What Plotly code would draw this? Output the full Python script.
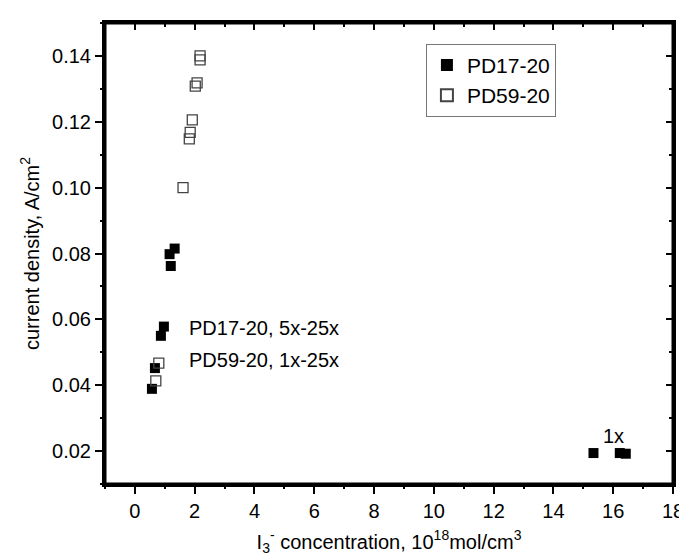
import plotly.graph_objects as go

# PD17-20 (filled squares)
pd17_x = [0.57, 0.67, 0.87, 0.97, 1.16, 1.20, 1.33, 15.34, 16.22, 16.42]
pd17_y = [0.0389, 0.0452, 0.0550, 0.0578, 0.0798, 0.0762, 0.0815, 0.0194, 0.0194, 0.0192]

# PD59-20 (open squares)
pd59_x = [0.70, 0.80, 1.61, 1.82, 1.85, 1.92, 2.02, 2.08, 2.18, 2.18]
pd59_y = [0.0413, 0.0467, 0.1000, 0.1148, 0.1168, 0.1206, 0.1308, 0.1318, 0.1388, 0.1400]

x_major = [0, 2, 4, 6, 8, 10, 12, 14, 16, 18]
x_minor = [-1, 1, 3, 5, 7, 9, 11, 13, 15, 17]
y_major = [0.02, 0.04, 0.06, 0.08, 0.10, 0.12, 0.14]
y_minor = [0.01, 0.03, 0.05, 0.07, 0.09, 0.11, 0.13, 0.15]

font = "Liberation Sans"
TF = 20

fig = go.Figure()
fig.add_trace(go.Scatter(x=pd17_x, y=pd17_y, mode="markers", name="PD17-20",
                         marker=dict(symbol="square", size=10, color="black",
                                     line=dict(width=0))))
fig.add_trace(go.Scatter(x=pd59_x, y=pd59_y, mode="markers", name="PD59-20",
                         marker=dict(symbol="square-open", size=10, color="#444444",
                                     line=dict(width=1.3))))
for k in (2, 3, 4):
    fig.add_trace(go.Scatter(x=[], y=[], xaxis=f"x{k}", yaxis=f"y{k}", showlegend=False,
                             hoverinfo="skip"))

fig.add_annotation(x=1.75, y=0.0575, text="PD17-20, 5x-25x", showarrow=False,
                   xanchor="left", yanchor="middle", font=dict(size=TF, color="black", family=font))
fig.add_annotation(x=1.75, y=0.0477, text="PD59-20, 1x-25x", showarrow=False,
                   xanchor="left", yanchor="middle", font=dict(size=TF, color="black", family=font))
fig.add_annotation(x=16.0, y=0.0245, text="1x", showarrow=False,
                   xanchor="center", yanchor="middle", font=dict(size=TF, color="black", family=font))

common = dict(tickwidth=2, tickcolor="black", showgrid=False, zeroline=False,
              tickfont=dict(size=TF, color="black", family=font))
XR = [-1, 18]
YR = [0.01, 0.15]

fig.update_layout(
    xaxis=dict(range=XR, tickmode="array", tickvals=x_major, ticks="outside", ticklen=7,
               showline=True, linecolor="black", linewidth=3, mirror=True,
               title=dict(text="I<sub>3</sub><sup>-</sup> concentration, 10<sup>18</sup>mol/cm<sup>3</sup>",
                          font=dict(size=TF, color="black", family=font), standoff=14),
               **common),
    yaxis=dict(range=YR, tickmode="array", tickvals=y_major, tickformat=".2f", ticks="outside",
               ticklen=7, showline=True, linecolor="black", linewidth=3, mirror=True,
               title=dict(text="current density, A/cm<sup>2</sup>",
                          font=dict(size=TF, color="black", family=font), standoff=8),
               **common),
    xaxis2=dict(range=XR, tickmode="array", tickvals=x_major, overlaying="x", side="top",
                anchor="y2", ticks="inside", ticklen=7, showticklabels=False, showline=False,
                **common),
    yaxis2=dict(range=YR, tickmode="array", tickvals=y_major, overlaying="y", side="right",
                anchor="x2", ticks="inside", ticklen=7, showticklabels=False, showline=False,
                **common),
    xaxis3=dict(range=XR, tickmode="array", tickvals=x_minor, overlaying="x", side="bottom",
                anchor="y3", ticks="outside", ticklen=4, showticklabels=False, showline=False,
                **common),
    yaxis3=dict(range=YR, tickmode="array", tickvals=y_minor, overlaying="y", side="left",
                anchor="x3", ticks="outside", ticklen=4, showticklabels=False, showline=False,
                **common),
    xaxis4=dict(range=XR, tickmode="array", tickvals=x_minor, overlaying="x", side="top",
                anchor="y4", ticks="inside", ticklen=4, showticklabels=False, showline=False,
                **common),
    yaxis4=dict(range=YR, tickmode="array", tickvals=y_minor, overlaying="y", side="right",
                anchor="x4", ticks="inside", ticklen=4, showticklabels=False, showline=False,
                **common),
)

fig.add_shape(type="rect", xref="paper", yref="paper", x0=0, x1=1, y0=0, y1=1,
              line=dict(color="black", width=3))

fig.update_layout(width=687, height=558, plot_bgcolor="white", paper_bgcolor="white",
                  margin=dict(l=97, r=11, t=15, b=82),
                  font=dict(family=font, color="black"),
                  showlegend=True,
                  legend=dict(x=0.565, y=0.955, xanchor="left", yanchor="top",
                              bordercolor="#777777", borderwidth=1, bgcolor="white",
                              font=dict(size=21, color="black", family=font),
                              itemsizing="constant", tracegroupgap=0))

fig.write_html("out.html")
